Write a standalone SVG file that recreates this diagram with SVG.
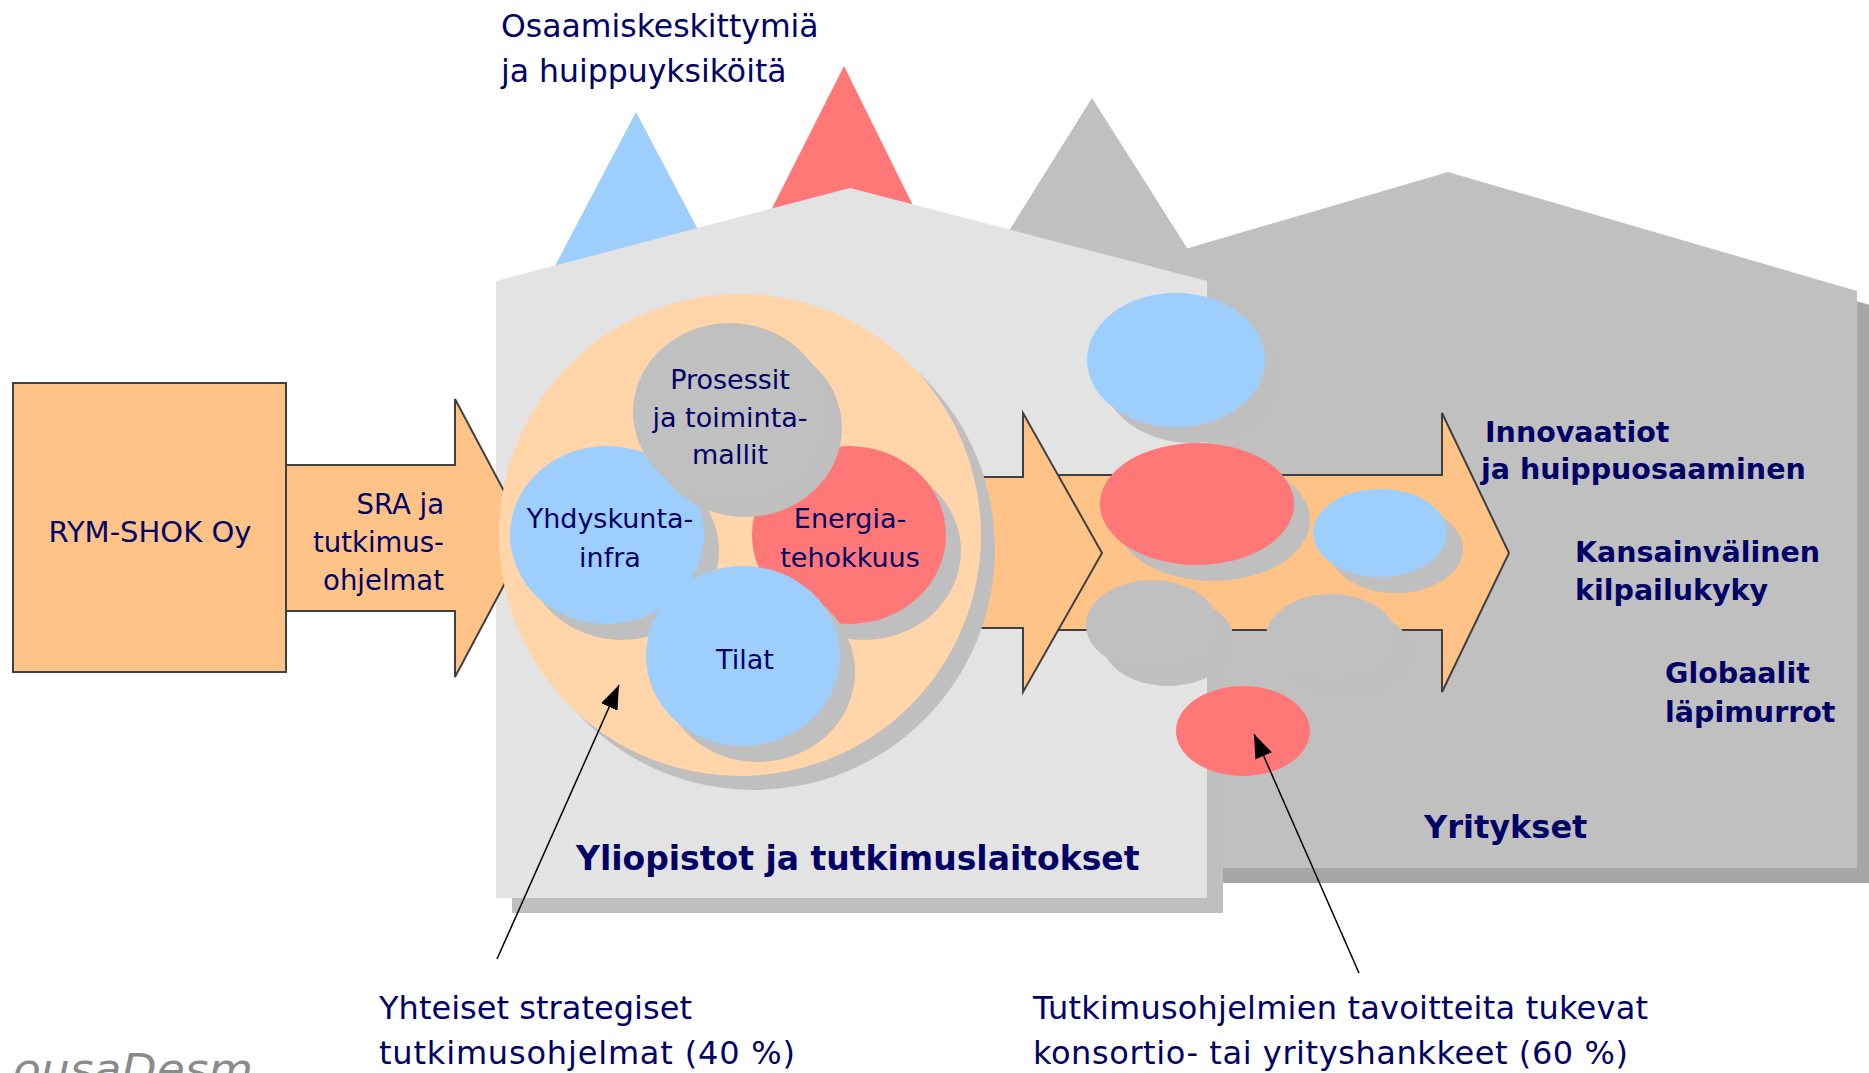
<svg xmlns="http://www.w3.org/2000/svg" width="1869" height="1073" viewBox="0 0 1869 1073">
<defs>
<style>
.t{font-family:"DejaVu Sans","Liberation Sans",sans-serif;fill:#000066}
.b{font-weight:bold}
.c{text-anchor:middle}
.e{text-anchor:end}
.arr{fill:#FFC388;stroke:#404040;stroke-width:2;stroke-linejoin:miter}
.sh{fill:#BFBFBF}
.blue{fill:#9DCEFC}
.red{fill:#FF7777}
.gray{fill:#C0C0C0}
.call{stroke:#000;stroke-width:1.5;fill:none}
</style>
<marker id="ah" viewBox="0 0 10 10" refX="10" refY="5" markerWidth="24" markerHeight="18" markerUnits="userSpaceOnUse" orient="auto" preserveAspectRatio="none">
<path d="M0,0 L10,5 L0,10 z" fill="#000"/>
</marker>
</defs>

<!-- background shapes -->
<g id="peaks">
<polygon points="636,112 537,300 735,300" fill="#9DCEFC"/>
<polygon points="844,66 746,260 940,260" fill="#FF7777"/>
<polygon points="1092,98 947,330 1239,330" fill="#C0C0C0"/>
</g>

<g id="yritykset">
<polygon points="1116,289 1464,187 1873,306 1873,883 1116,883" fill="#A6A6A6"/>
<polygon points="1100,274 1448,172 1857,291 1857,868 1100,868" fill="#C0C0C0"/>
<text class="t b" x="1424" y="838" font-size="32">Yritykset</text>
</g>

<g id="yliopistot">
<polygon points="512,296 866,203 1223,296 1223,913 512,913" fill="#BFBFBF"/>
<polygon points="496,281 850,188 1207,281 1207,898 496,898" fill="#E3E3E3"/>
<text class="t b" x="576" y="870" font-size="33">Yliopistot ja tutkimuslaitokset</text>
</g>

<g id="osaamis">
<text class="t" x="501" y="37" font-size="31.5">Osaamiskeskittymiä</text>
<text class="t" x="501" y="82" font-size="31.5">ja huippuyksiköitä</text>
</g>

<g id="rym">
<rect x="13" y="383" width="273" height="289" fill="#FFC388" stroke="#404040" stroke-width="2"/>
<text class="t c" x="150" y="542" font-size="29">RYM-SHOK Oy</text>
</g>

<g id="connectors">
<polygon id="arrow1" class="arr" points="286,465 455,465 455,399 529,538 455,677 455,611 286,611"/>
<polygon id="arrow3" class="arr" points="1040,475 1442,475 1442,413 1509,553 1442,692 1442,630 1040,630"/>
<polygon id="arrow2" class="arr" points="940,477 1023,477 1023,413 1102,553 1023,692 1023,628 940,628"/>
</g>

<g id="sra">
<text class="t e" x="444" y="514" font-size="27.5">SRA ja</text>
<text class="t e" x="444" y="552" font-size="27.5">tutkimus-</text>
<text class="t e" x="444" y="590" font-size="27.5">ohjelmat</text>
</g>

<g id="ohjelmat">
<circle cx="754" cy="549" r="241" class="sh"/>
<circle cx="740" cy="535" r="241" fill="#FFD5A9"/>
</g>

<g id="yhdyskunta">
<ellipse cx="622" cy="551" rx="97" ry="89" class="sh"/>
<ellipse cx="607" cy="535" rx="97" ry="89" class="blue"/>
<text class="t c" x="610" y="528" font-size="27">Yhdyskunta-</text>
<text class="t c" x="610" y="567" font-size="27">infra</text>
</g>

<g id="energia">
<ellipse cx="864" cy="551" rx="97" ry="89" class="sh"/>
<ellipse cx="849" cy="535" rx="97" ry="89" class="red"/>
<text class="t c" x="850" y="528" font-size="27">Energia-</text>
<text class="t c" x="850" y="567" font-size="27">tehokkuus</text>
</g>

<g id="prosessit">
<ellipse cx="745" cy="428" rx="97" ry="89" class="sh"/>
<ellipse cx="730" cy="412" rx="97" ry="89" class="gray"/>
<text class="t c" x="730" y="389" font-size="27">Prosessit</text>
<text class="t c" x="730" y="427" font-size="27">ja toiminta-</text>
<text class="t c" x="730" y="464" font-size="27">mallit</text>
</g>

<g id="tilat">
<ellipse cx="758" cy="672" rx="97" ry="90" class="sh"/>
<ellipse cx="743" cy="656" rx="97" ry="90" class="blue"/>
<text class="t c" x="745" y="669" font-size="27">Tilat</text>
</g>

<g id="hankkeet">
<ellipse cx="1192" cy="376" rx="89" ry="67" class="sh"/>
<ellipse cx="1176" cy="360" rx="89" ry="67" class="blue"/>
<ellipse cx="1213" cy="520" rx="97" ry="61" class="sh"/>
<ellipse cx="1197" cy="504" rx="97" ry="61" class="red"/>
<ellipse cx="1168" cy="641" rx="66" ry="45" class="sh"/>
<ellipse cx="1152" cy="625" rx="66" ry="45" class="gray"/>
<ellipse cx="1396" cy="549" rx="67" ry="44" class="sh"/>
<ellipse cx="1380" cy="533" rx="67" ry="44" class="blue"/>
<ellipse cx="1347" cy="653" rx="65" ry="43" class="sh"/>
<ellipse cx="1331" cy="637" rx="65" ry="43" class="gray"/>
<ellipse cx="1243" cy="731" rx="67" ry="45" class="red"/>
</g>

<g id="tulokset">
<text class="t b" x="1485" y="442" font-size="28.5">Innovaatiot</text>
<text class="t b" x="1481" y="479" font-size="28.5">ja huippuosaaminen</text>
<text class="t b" x="1575" y="562" font-size="28.5">Kansainvälinen</text>
<text class="t b" x="1575" y="600" font-size="28.5">kilpailukyky</text>
<text class="t b" x="1665" y="683" font-size="28.5">Globaalit</text>
<text class="t b" x="1665" y="722" font-size="28.5">läpimurrot</text>
</g>

<g id="callouts">
<line class="call" x1="497" y1="959" x2="619" y2="685" marker-end="url(#ah)"/>
<line class="call" x1="1359" y1="973" x2="1254" y2="734" marker-end="url(#ah)"/>
</g>

<g id="label40">
<text class="t" x="379" y="1019" font-size="32" textLength="313" lengthAdjust="spacing">Yhteiset strategiset</text>
<text class="t" x="379" y="1064" font-size="32" textLength="416" lengthAdjust="spacing">tutkimusohjelmat (40 %)</text>
</g>

<g id="label60">
<text class="t" x="1033" y="1019" font-size="32" textLength="615" lengthAdjust="spacing">Tutkimusohjelmien tavoitteita tukevat</text>
<text class="t" x="1033" y="1064" font-size="32" textLength="595" lengthAdjust="spacing">konsortio- tai yrityshankkeet (60 %)</text>
</g>

<g id="logo">
<text x="13" y="1084" font-family="'DejaVu Sans',sans-serif" font-style="italic" font-size="42" fill="#8A8A8A" textLength="240" lengthAdjust="spacingAndGlyphs">ousaDesm</text>
</g>
</svg>
